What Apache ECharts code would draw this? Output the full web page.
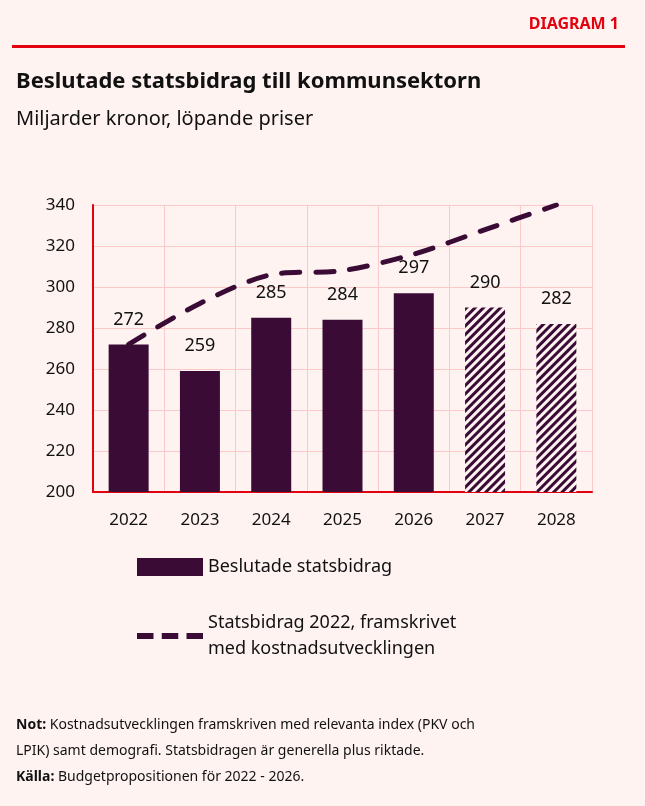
<!DOCTYPE html>
<html><head><meta charset="utf-8">
<script src="https://cdn.jsdelivr.net/npm/echarts@6/dist/echarts.min.js"></script>
<style>html,body{margin:0;padding:0;background:#fff3f2}#c{width:645px;height:806px}</style>
</head><body><div id="c"></div>
<script>
const years = ['2022', '2023', '2024', '2025', '2026', '2027', '2028'];
const decided = [272, 259, 285, 284, 297, 290, 282];
const projected = [272, 292, 306, 308, 316, 328, 340];
const hatched = [false, false, false, false, false, true, true];
const yTicks = { min: 200, max: 340, interval: 20 };

const dark = '#3a0c35';
const red = '#e3000f';
const font = '"Noto Sans", sans-serif';
const dashIcon = 'path://M0,0h16v6h-16z M24,0h16v6h-16z M48,0h16v6h-16z';

const chart = echarts.init(document.getElementById('c'));
chart.setOption({
    backgroundColor: '#fff3f2',
    textStyle: { fontFamily: font },
    grid: { left: 93, right: 53, top: 205, bottom: 314 },
    graphic: [
        { type: 'text', right: 26, top: 16, style: { text: 'DIAGRAM 1', fontSize: 16, fontWeight: 'bold', fill: red, fontFamily: font } },
        { type: 'rect', shape: { x: 12, y: 45, width: 613, height: 3 }, style: { fill: red } },
        { type: 'text', left: 16, top: 71, style: { text: 'Beslutade statsbidrag till kommunsektorn', fontSize: 22, fontWeight: 'bold', fill: '#111', fontFamily: font } },
        { type: 'text', left: 16, top: 109, style: { text: 'Miljarder kronor, löpande priser', fontSize: 20, fill: '#111', fontFamily: font } },
        { type: 'text', left: 16, top: 712, style: {
            text: '{b|Not:} Kostnadsutvecklingen framskriven med relevanta index (PKV och\nLPIK) samt demografi. Statsbidragen är generella plus riktade.\n{b|Källa:} Budgetpropositionen för 2022 - 2026.',
            fontSize: 14, lineHeight: 26, fill: '#111', fontFamily: font,
            rich: { b: { fontWeight: 'bold', fontSize: 14, fontFamily: font } }
        } }
    ],
    legend: {
        orient: 'vertical', left: 132, top: 549, itemGap: 30,
        itemWidth: 66, itemHeight: 18,
        textStyle: { fontSize: 18, color: '#111', lineHeight: 26, fontFamily: font },
        data: [
            { name: 'Beslutade statsbidrag', icon: 'rect' },
            { name: 'Statsbidrag 2022, framskrivet\nmed kostnadsutvecklingen', icon: dashIcon, itemStyle: { color: dark } }
        ]
    },
    xAxis: {
        type: 'category', data: years,
        axisLine: { lineStyle: { color: red, width: 2 } },
        axisTick: { show: false },
        axisLabel: { fontSize: 17, color: '#111', margin: 20 },
        splitLine: { show: true, lineStyle: { color: '#fbc9c9' } }
    },
    yAxis: {
        type: 'value', min: yTicks.min, max: yTicks.max, interval: yTicks.interval,
        axisLine: { show: true, lineStyle: { color: red, width: 2 } },
        axisLabel: { fontSize: 17, color: '#111', margin: 18 },
        splitLine: { lineStyle: { color: '#fbc9c9' } }
    },
    series: [
        {
            name: 'Beslutade statsbidrag', type: 'bar', barWidth: 40,
            itemStyle: { color: dark },
            label: { show: true, position: 'top', distance: 16, fontSize: 18, color: '#111' },
            data: decided.map((v, i) => hatched[i] ? {
                value: v,
                itemStyle: {
                    color: '#fff3f2',
                    decal: { symbol: 'rect', color: dark, dashArrayX: [1, 0], dashArrayY: [2.5, 2.5], rotation: -Math.PI / 4, symbolSize: 1 }
                }
            } : v)
        },
        {
            name: 'Statsbidrag 2022, framskrivet\nmed kostnadsutvecklingen', type: 'line', smooth: 0.3,
            symbol: 'none', z: 3,
            lineStyle: { color: dark, width: 5, type: [18, 16], cap: 'round' },
            itemStyle: { color: dark },
            data: projected
        }
    ]
});
</script></body></html>
